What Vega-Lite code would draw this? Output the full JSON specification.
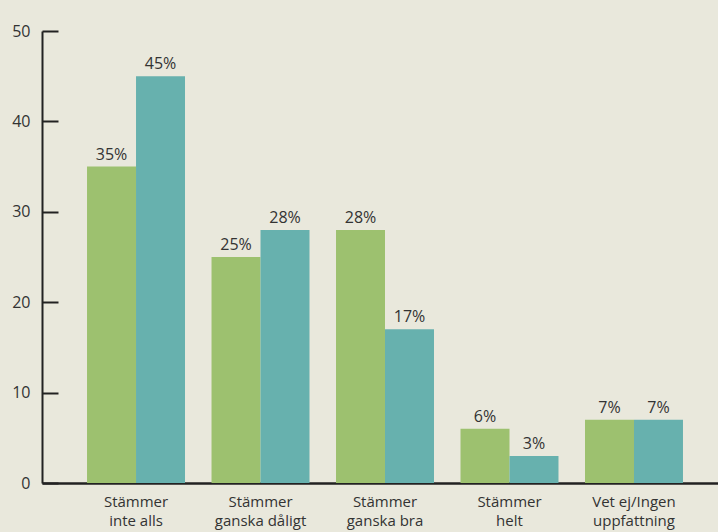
{
  "$schema": "https://vega.github.io/schema/vega-lite/v6.json",
  "width": 676,
  "height": 452,
  "autosize": {"type": "none"},
  "padding": {"left": 42, "top": 31, "right": 0, "bottom": 49},
  "background": "#e9e8dc",
  "config": {
    "view": {"stroke": null},
    "font": "Open Sans"
  },
  "data": {
    "values": [
      {"kategori": "Stämmer|inte alls", "serie": "1", "andel": 35, "etikett": "35%"},
      {"kategori": "Stämmer|inte alls", "serie": "2", "andel": 45, "etikett": "45%"},
      {"kategori": "Stämmer|ganska dåligt", "serie": "1", "andel": 25, "etikett": "25%"},
      {"kategori": "Stämmer|ganska dåligt", "serie": "2", "andel": 28, "etikett": "28%"},
      {"kategori": "Stämmer|ganska bra", "serie": "1", "andel": 28, "etikett": "28%"},
      {"kategori": "Stämmer|ganska bra", "serie": "2", "andel": 17, "etikett": "17%"},
      {"kategori": "Stämmer|helt", "serie": "1", "andel": 6, "etikett": "6%"},
      {"kategori": "Stämmer|helt", "serie": "2", "andel": 3, "etikett": "3%"},
      {"kategori": "Vet ej/Ingen|uppfattning", "serie": "1", "andel": 7, "etikett": "7%"},
      {"kategori": "Vet ej/Ingen|uppfattning", "serie": "2", "andel": 7, "etikett": "7%"}
    ]
  },
  "encoding": {
    "x": {
      "field": "kategori",
      "type": "nominal",
      "sort": null,
      "scale": {"paddingInner": 0.213, "paddingOuter": 0.3215, "align": 0.5625},
      "axis": {
        "title": null,
        "labelAngle": 0,
        "labelExpr": "split(datum.label, '|')",
        "labelFontSize": 15,
        "labelColor": "#333333",
        "labelLineHeight": 19,
        "labelPadding": 11,
        "ticks": false,
        "domainColor": "#222222",
        "domainWidth": 2.5,
        "grid": false
      }
    },
    "xOffset": {"field": "serie", "type": "nominal", "scale": {"paddingInner": 0, "paddingOuter": 0}},
    "y": {
      "field": "andel",
      "type": "quantitative",
      "scale": {"domain": [0, 50], "nice": false},
      "axis": {
        "title": null,
        "values": [0, 10, 20, 30, 40, 50],
        "grid": false,
        "tickSize": -16,
        "tickWidth": 2,
        "tickColor": "#222222",
        "domainColor": "#222222",
        "domainWidth": 2,
        "labelPadding": 28,
        "labelFontSize": 16,
        "labelColor": "#333333"
      }
    }
  },
  "layer": [
    {
      "mark": {"type": "bar"},
      "encoding": {
        "color": {
          "field": "serie",
          "type": "nominal",
          "scale": {"domain": ["1", "2"], "range": ["#9dc16f", "#67b1ae"]},
          "legend": null
        }
      }
    },
    {
      "mark": {"type": "text", "baseline": "alphabetic", "dy": -7, "fontSize": 16, "color": "#333333"},
      "encoding": {
        "text": {"field": "etikett", "type": "nominal"}
      }
    }
  ]
}
